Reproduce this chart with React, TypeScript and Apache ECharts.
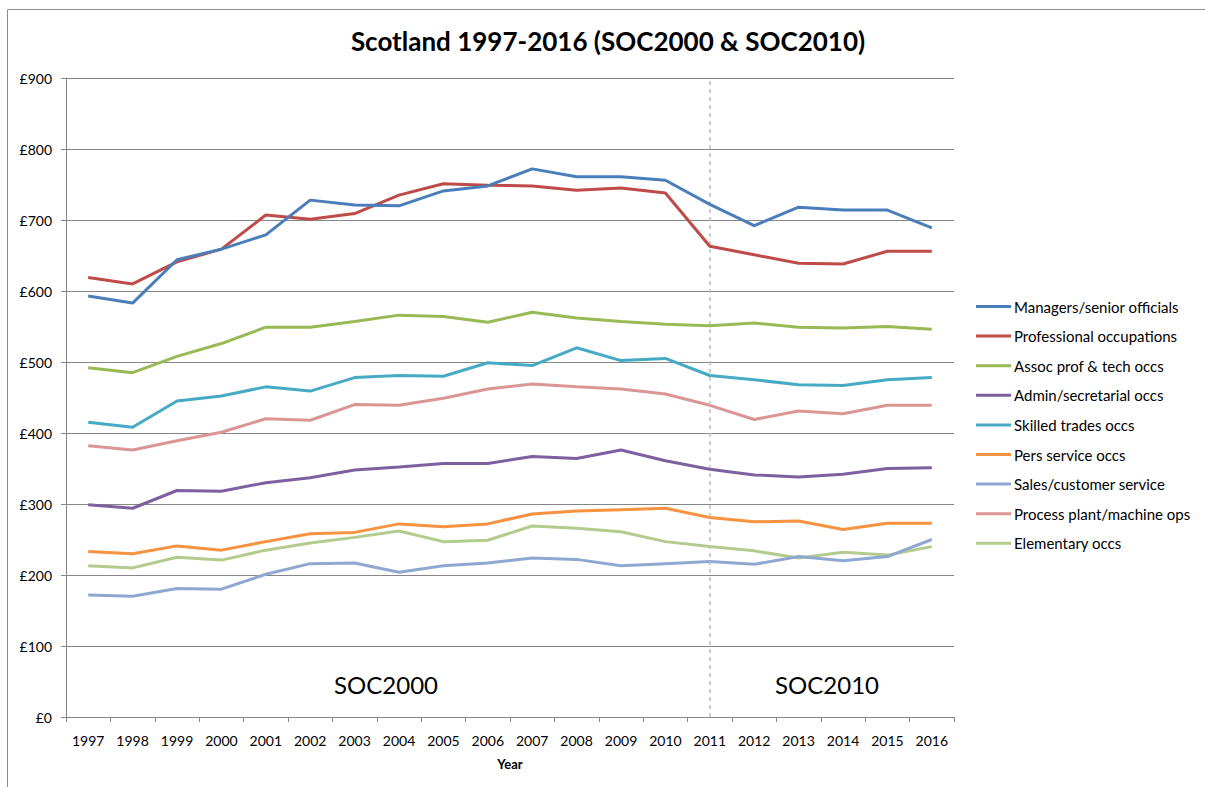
import React, { useEffect, useRef } from "react";
import * as echarts from "echarts";

const years = ["1997","1998","1999","2000","2001","2002","2003","2004","2005","2006","2007","2008","2009","2010","2011","2012","2013","2014","2015","2016"];

const managers = [593,583,644,659,679,728,721,720,741,748,772,761,761,756,722,692,718,714,714,689];
const professional = [619,610,641,659,707,701,709,735,751,749,748,742,745,738,663,651,639,638,656,656];
const assocProf = [492,485,508,526,549,549,557,566,564,556,570,562,557,553,551,555,549,548,550,546];
const admin = [299,294,319,318,330,337,348,352,357,357,367,364,376,361,349,341,338,342,350,351];
const skilledTrades = [415,408,445,452,465,459,478,481,480,499,495,520,502,505,481,475,468,467,475,478];
const persService = [233,230,241,235,247,258,260,272,268,272,286,290,292,294,281,275,276,264,273,273];
const sales = [172,170,181,180,201,216,217,204,213,217,224,222,213,216,219,215,226,220,226,250];
const processPlant = [382,376,389,401,420,418,440,439,449,462,469,465,462,455,439,419,431,427,439,439];
const elementary = [213,210,225,221,235,245,253,262,247,249,269,266,261,247,240,234,224,232,228,240];

const seriesNames = [
  "Managers/senior officials",
  "Professional occupations",
  "Assoc prof & tech occs",
  "Admin/secretarial occs",
  "Skilled trades occs",
  "Pers service occs",
  "Sales/customer service",
  "Process plant/machine ops",
  "Elementary occs",
];
const seriesData = [managers, professional, assocProf, admin, skilledTrades, persService, sales, processPlant, elementary];
const colors = ["#4A7EBB","#BE4B48","#98B954","#7D60A0","#46AAC5","#F69240","#8EA8D2","#D99694","#B3CB8C"];

const yTicks = [0, 100, 200, 300, 400, 500, 600, 700, 800, 900];
const changeYear = "2011";

const FONT = "Lato, 'Noto Sans', sans-serif";

export default function App() {
  const ref = useRef<HTMLDivElement>(null);
  useEffect(() => {
    if (!ref.current) return;
    const chart = echarts.init(ref.current, undefined, { renderer: "svg" });
    const series: any[] = seriesNames.map((name, i) => ({
      name,
      type: "line",
      data: seriesData[i],
      symbol: "none",
      showSymbol: false,
      lineStyle: { width: 3, color: colors[i] },
      itemStyle: { color: colors[i] },
      z: 10 - i,
      ...(i === 0
        ? {
            markLine: {
              silent: true,
              symbol: "none",
              label: { show: false },
              lineStyle: { type: [4, 4], color: "#BFBFBF", width: 1.5 },
              data: [{ xAxis: changeYear }],
            },
          }
        : {}),
    }));
    chart.setOption({
      animation: false,
      backgroundColor: "#fff",
      textStyle: { fontFamily: FONT },
      title: {
        text: "Scotland 1997-2016 (SOC2000 & SOC2010)",
        left: 603,
        top: 23,
        textAlign: "center",
        textStyle: { fontFamily: FONT, fontSize: 26, fontWeight: "bold", color: "#000" },
      },
      grid: { left: 66, right: 251, top: 78, bottom: 70, containLabel: false },
      legend: {
        orient: "vertical",
        left: 976,
        top: 299,
        padding: 0,
        icon: "rect",
        itemWidth: 35,
        itemHeight: 3,
        itemGap: 14.6,
        textStyle: { fontFamily: FONT, fontSize: 15, color: "#000", lineHeight: 15, height: 15, padding: [0, 0, 0, -2] },
        data: seriesNames,
      },
      xAxis: {
        type: "category",
        data: years,
        boundaryGap: true,
        name: "Year",
        nameLocation: "middle",
        nameGap: 40,
        nameTextStyle: { fontFamily: FONT, fontSize: 13, fontWeight: "bold", color: "#000" },
        axisLine: { lineStyle: { color: "#868686", width: 1 } },
        axisTick: { show: true, length: 5, lineStyle: { color: "#868686" }, alignWithLabel: false },
        axisLabel: { fontFamily: FONT, fontSize: 14, color: "#000", margin: 16, interval: 0 },
        splitLine: { show: false },
      },
      yAxis: {
        type: "value",
        min: yTicks[0],
        max: yTicks[yTicks.length - 1],
        interval: 100,
        axisLine: { show: true, lineStyle: { color: "#868686", width: 1 } },
        axisTick: { show: true, length: 5, lineStyle: { color: "#868686" } },
        axisLabel: {
          fontFamily: FONT,
          fontSize: 14,
          color: "#000",
          margin: 14,
          formatter: (v: number) => "£" + v,
        },
        splitLine: { show: true, lineStyle: { color: "#868686", width: 1 } },
      },
      graphic: [
        { type: "line", shape: { x1: 7.5, y1: 9.5, x2: 1205, y2: 9.5 }, style: { stroke: "#8C8C8C", lineWidth: 1 } },
        { type: "line", shape: { x1: 7.5, y1: 9.5, x2: 7.5, y2: 787 }, style: { stroke: "#8C8C8C", lineWidth: 1 } },
        {
          type: "text",
          x: 386,
          y: 684,
          style: { text: "SOC2000", fontFamily: FONT, fontSize: 24, fill: "#000", align: "center", verticalAlign: "middle" },
        },
        {
          type: "text",
          x: 827,
          y: 684,
          style: { text: "SOC2010", fontFamily: FONT, fontSize: 24, fill: "#000", align: "center", verticalAlign: "middle" },
        },
      ],
      series,
    });
    return () => chart.dispose();
  }, []);
  return (
    <div
      ref={ref}
      style={{ position: "fixed", left: 0, top: 0, width: 1205, height: 787, background: "#fff" }}
    />
  );
}
